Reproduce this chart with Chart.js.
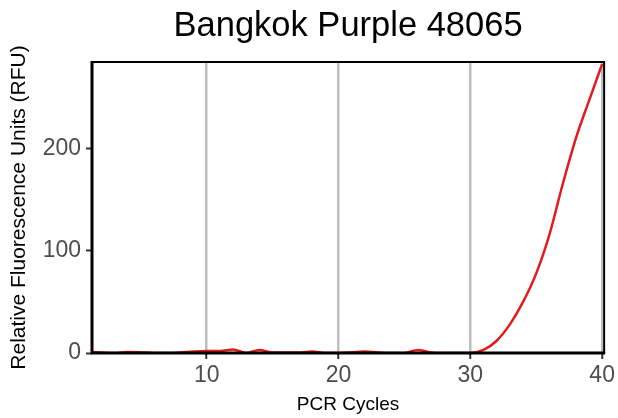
<!DOCTYPE html>
<html lang="en">
<head>
<meta charset="UTF-8">
<title>Bangkok Purple 48065</title>
<script src="https://cdn.jsdelivr.net/npm/chart.js@4.4.0/dist/chart.umd.min.js"></script>
<style>
  body { margin: 0; background: #fff; }
</style>
</head>
<body>
<canvas id="myChart" width="618" height="418"></canvas>
<script>
// cycle numbers and fluorescence
const cycles = [1, 2, 3, 4, 5, 6, 7, 8, 9, 10,
                11, 12, 13, 14, 15, 16, 17, 18, 19, 20,
                21, 22, 23, 24, 25, 26, 27, 28, 29, 30,
                31, 32, 33, 34, 35, 36, 37, 38, 39, 40];
const rfu = [1, 0.5, 0, 1, 0.8, 0, 0, 0.5, 1.5, 2,
             2, 3.5, 0, 3, 0.5, 0.5, 0.5, 1.5, 0, 0,
             0.8, 1.5, 0.5, 0, 0, 3, 0.5, 0, 0, 0,
             3, 12, 28, 50, 78, 116, 165, 210, 247, 283];
const xTicks = [10, 20, 30, 40];
const yTicks = [0, 100, 200];

const fontFamily = '"Liberation Sans", Arial, sans-serif';

// black frame round the panel, thicker on the axis sides
const panelBorder = {
  id: 'panelBorder',
  afterDatasetsDraw(chart) {
    const { ctx, chartArea: a } = chart;
    ctx.save();
    ctx.strokeStyle = '#000';
    ctx.lineWidth = 2;
    ctx.strokeRect(a.left, a.top, a.right - a.left, a.bottom - a.top);
    ctx.lineWidth = 3;
    ctx.beginPath();
    ctx.moveTo(a.left, a.top - 1);
    ctx.lineTo(a.left, a.bottom);
    ctx.lineTo(a.right + 1, a.bottom);
    ctx.stroke();
    ctx.restore();
  }
};

const points = cycles.map((c, i) => ({ x: c, y: rfu[i] }));

new Chart("myChart", {
  type: "line",
  data: {
    datasets: [{
      data: points,
      borderColor: "#e41a1c",
      borderWidth: 2.5,
      pointRadius: 0,
      cubicInterpolationMode: "monotone",
      fill: false
    }]
  },
  options: {
    responsive: false,
    animation: false,
    devicePixelRatio: 1,
    layout: { padding: { left: 0, right: 13, top: 0, bottom: 0 } },
    plugins: {
      legend: { display: false },
      tooltip: { enabled: false },
      title: {
        display: true,
        text: "Bangkok Purple 48065",
        color: "#000",
        fullSize: false,
        font: { family: fontFamily, size: 34.5, weight: "normal" },
        padding: { top: 6, bottom: 14.6 }
      }
    },
    scales: {
      x: {
        type: "linear",
        min: 1.3,
        max: 40.15,
        afterBuildTicks: s => { s.ticks = xTicks.map(v => ({ value: v })); },
        afterFit: s => { s.height = 65; },
        border: { display: false },
        grid: {
          color: "#bebebe",
          lineWidth: 2.5,
          tickColor: "#333",
          tickLength: 6,
          tickWidth: 2
        },
        ticks: {
          color: "#4d4d4d",
          padding: 3,
          maxRotation: 0,
          font: { family: fontFamily, size: 23 }
        },
        title: {
          display: true,
          text: "PCR Cycles",
          color: "#000",
          font: { family: fontFamily, size: 19 },
          padding: { top: 0, bottom: 2 }
        }
      },
      y: {
        min: 0,
        max: 285,
        afterBuildTicks: s => { s.ticks = yTicks.map(v => ({ value: v })); },
        afterFit: s => { s.width = 92; },
        border: { display: false },
        grid: {
          drawOnChartArea: false,
          color: "#333",
          tickColor: "#333",
          tickLength: 6,
          tickWidth: 2
        },
        ticks: {
          color: "#4d4d4d",
          padding: 5,
          font: { family: fontFamily, size: 23 }
        },
        title: {
          display: true,
          text: "Relative Fluorescence Units (RFU)",
          color: "#000",
          font: { family: fontFamily, size: 21 },
          padding: { top: 7, bottom: 0 }
        }
      }
    }
  },
  plugins: [panelBorder]
});
</script>
</body>
</html>
